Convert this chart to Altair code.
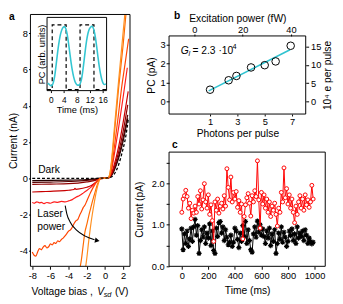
import altair as alt
import pandas as pd

FONT = "Liberation Sans"

# ================= panel a : current vs voltage =================
a_x_domain = [-8.2, 2.75]
a_y_domain = [-4.86, 9.04]
a_x_ticks = [-8, -6, -4, -2, 0, 2]
a_y_ticks = [-4, -2, 0, 2, 4, 6, 8]

dark_v = [-8.0, -4.0, -1.0, 0.3, 0.5, 0.7, 1.0, 1.5, 1.9, 2.3, 2.56]
dark_i = [0.0, 0.0, 0.0, 0.02, 0.03, 0.07, 0.22, 0.75, 1.46, 2.36, 3.26]

low_v = [-8.0, -6.0, -4.0, -2.0, -1.0, -0.6, 0.0, 0.3, 0.5, 0.7, 1.0, 1.5, 2.0, 2.5]
c1_i = [-0.13, -0.12, -0.10, -0.07, -0.03, 0.0, 0.0, 0.01, 0.04, 0.14, 0.42, 1.11, 2.07, 3.30]
c2_i = [-0.23, -0.21, -0.18, -0.12, -0.06, -0.01, 0.0, 0.01, 0.05, 0.16, 0.47, 1.22, 2.25, 3.50]
c3_i = [-0.34, -0.32, -0.30, -0.20, -0.10, -0.02, 0.0, 0.01, 0.05, 0.20, 0.58, 1.45, 2.60, 4.05]

c4_v = [-8.0, -7.0, -6.0, -5.0, -4.0, -3.4, -3.3, -3.2, -3.0, -2.0, -1.5, -1.0, -0.6, 0.0, 0.3, 0.5, 0.7, 1.0, 1.5, 2.0, 2.55]
c4_i = [-0.76, -0.74, -0.72, -0.70, -0.66, -0.62, -0.55, -0.61, -0.60, -0.50, -0.40, -0.22, -0.03, 0.0, 0.01, 0.06, 0.25, 0.72, 1.75, 3.10, 4.80]

c5_v = [-8.0, -7.8, -7.5, -7.2, -7.0, -6.7, -6.4, -6.0, -5.6, -5.2, -4.8, -4.4, -4.0, -3.6, -3.2, -2.8, -2.4, -2.0, -1.6, -1.2, -0.9, -0.6, 0.0, 0.3, 0.5, 0.7, 1.0, 1.5, 2.0, 2.45]
c5_i = [-1.33, -1.38, -1.30, -1.36, -1.33, -1.40, -1.34, -1.38, -1.30, -1.33, -1.28, -1.30, -1.25, -1.18, -1.05, -0.95, -0.82, -0.68, -0.52, -0.33, -0.17, -0.02, 0.0, 0.01, 0.08, 0.40, 1.25, 2.80, 4.50, 6.10]

c6_v = [-8.0, -7.8, -7.6, -7.4, -7.2, -7.0, -6.8, -6.6, -6.4, -6.2, -6.0, -5.8, -5.6, -5.4, -5.2, -5.0, -4.8, -4.6, -4.4, -4.2,
        -4.0, -3.8, -3.6, -3.4, -3.2, -3.0, -2.8, -2.6, -2.4, -2.2, -2.0, -1.8, -1.6, -1.4, -1.2, -1.0, -0.8, -0.6, -0.4,
        0.0, 0.3, 0.5, 0.7, 1.0, 1.5, 1.8, 2.2, 2.6]
c6_i = [-4.07, -4.25, -4.30, -4.05, -3.88, -3.95, -3.80, -3.72, -3.85, -3.78, -3.62, -3.68, -3.55, -3.60, -3.45, -3.50, -3.38, -3.30, -3.18, -3.05,
        -2.92, -2.85, -2.70, -2.50, -2.35, -2.28, -2.05, -1.85, -1.62, -1.48, -1.25, -1.02, -0.80, -0.60, -0.42, -0.26, -0.12, -0.03, 0.0,
        0.0, 0.01, 0.10, 0.50, 1.60, 3.60, 4.90, 6.30, 7.70]

c7_v = [-2.72, -2.6, -2.4, -2.2, -2.0, -1.8, -1.6, -1.4, -1.2, -1.0, -0.8, -0.6, -0.4, 0.0, 0.3, 0.5, 0.7, 1.0, 1.5, 2.0, 2.30]
c7_i = [-4.86, -4.50, -3.70, -2.95, -2.55, -2.10, -1.70, -1.30, -0.95, -0.60, -0.28, -0.06, 0.0, 0.0, 0.02, 0.15, 0.80, 2.30, 5.00, 7.40, 9.04]

c8_v = [-2.12, -2.0, -1.8, -1.6, -1.4, -1.2, -1.0, -0.8, -0.6, -0.4, 0.0, 0.3, 0.5, 0.7, 1.0, 1.5, 2.0, 2.18]
c8_i = [-4.86, -4.40, -3.50, -2.70, -2.00, -1.40, -0.85, -0.40, -0.10, 0.0, 0.0, 0.02, 0.18, 0.90, 2.60, 5.40, 8.10, 9.04]

curve_names = ["c1", "c2", "c3", "c4", "c5", "c6", "c7", "c8"]
curve_colors = ["#1f0000", "#560000", "#8e0000", "#c80000", "#ff1c1c", "#ff4400", "#ff6a00", "#ff9020"]
curve_data = [(low_v, c1_i), (low_v, c2_i), (low_v, c3_i), (c4_v, c4_i),
              (c5_v, c5_i), (c6_v, c6_i), (c7_v, c7_i), (c8_v, c8_i)]

arrow_v = [-4.38, -4.20, -3.84, -3.13, -2.23, -1.15]
arrow_i = [-1.51, -1.96, -2.41, -2.86, -3.18, -3.39]
arrow_head_v = [-0.85]
arrow_head_i = [-3.44]

a_labels = ["Dark", "Laser", "power"]
a_label_v = [-7.35, -7.45, -7.45]
a_label_i = [0.45, -1.95, -2.68]

# inset (photocurrent trace)
in_x_domain = [-1.2, 17.2]
in_y_domain = [-0.015, 1.116]
in_x_ticks = [0, 4, 8, 12, 16]
sq_t = [-1.2, 0.4, 0.4, 4.7, 4.7, 9.0, 9.0, 13.3, 13.3, 17.2]
sq_v = [0, 0, 1, 1, 0, 0, 1, 1, 0, 0]
cy_t = [-1.0, -0.5, 0.0, 0.4, 0.8, 1.2, 1.6, 2.0, 2.4, 2.8, 3.2, 3.6, 4.0, 4.3, 4.6, 5.0, 5.4, 5.8, 6.2, 6.6, 7.0, 7.4, 7.8,
        8.2, 8.6, 9.0, 9.4, 9.8, 10.2, 10.6, 11.0, 11.4, 11.8, 12.2, 12.6, 12.9, 13.3, 13.7, 14.1, 14.5, 14.9, 15.3, 15.7,
        16.1, 16.5, 17.0]
cy_v = [0.10, 0.08, 0.06, 0.07, 0.12, 0.22, 0.38, 0.55, 0.70, 0.82, 0.90, 0.95, 0.97, 0.97, 0.94, 0.86, 0.73, 0.58, 0.43,
        0.30, 0.20, 0.13, 0.09, 0.07, 0.07, 0.09, 0.15, 0.27, 0.43, 0.60, 0.75, 0.86, 0.93, 0.96, 0.98, 0.97, 0.92, 0.82,
        0.68, 0.52, 0.37, 0.25, 0.16, 0.10, 0.08, 0.09]

# ================= panel b : PC vs photons =================
b_x_domain = [-2.0, 8.0]
b_y_domain = [-0.67, 3.47]
b_top_domain = [-10.5, 46.1]
b_right_domain = [-3.48, 17.95]
b_x_ticks = [1, 3, 5, 7]
b_y_ticks = [0, 1, 2, 3]
b_top_ticks = [0, 20, 40]
b_right_ticks = [0, 5, 10, 15]
photons = [1.0, 2.36, 2.93, 4.0, 5.0, 5.8, 6.9]
pc_pa = [0.62, 1.12, 1.35, 1.80, 1.92, 2.12, 2.95]
fit_photons = [0.9, 6.85]
fit_pc = [0.56, 2.74]

# ================= panel c : time traces =================
c_x_domain = [-96, 1081]
c_y_domain = [0, 2.75]
c_x_ticks = [0, 200, 400, 600, 800, 1000]
c_y_ticks = [0, 0.5, 1, 1.5, 2, 2.5]
time_ms = list(range(0, 1000, 10))
red_pa = [1.30, 1.62, 1.70, 1.83, 1.68, 1.40, 1.52, 1.15, 1.35, 1.28,
          1.45, 1.30, 1.68, 1.50, 1.82, 1.38, 1.60, 1.99, 1.55, 1.40,
          1.72, 1.25, 1.48, 1.10, 0.60, 1.55, 1.35, 1.62, 1.28, 1.45,
          1.52, 1.38, 1.70, 1.45, 2.35, 1.90, 1.60, 2.15, 1.55, 1.78,
          1.62, 1.80, 1.42, 1.58, 1.30, 1.50, 0.66, 1.20, 1.48, 1.65,
          1.75, 1.52, 1.21, 1.70, 1.55, 1.82, 1.68, 2.54, 1.60, 0.92,
          1.78, 1.50, 1.72, 1.40, 1.62, 1.30, 1.55, 1.20, 1.45, 1.35,
          1.52, 1.25, 0.97, 1.40, 1.30, 1.78, 1.55, 2.37, 1.65, 1.87,
          1.50, 1.72, 1.40, 1.62, 1.30, 1.05, 1.45, 1.25, 1.55, 1.70,
          1.40, 1.62, 1.35, 1.72, 1.48, 1.60, 1.42, 1.55, 1.95, 1.62]
black_pa = [0.90, 0.40, 0.78, 0.55, 0.85, 0.48, 0.66, 0.92, 0.60, 0.95,
            1.13, 0.75, 0.98, 0.31, 0.62, 0.88, 0.70, 0.95, 0.55, 0.80,
            0.68, 1.02, 0.50, 0.85, 0.38, 0.31, 0.92, 0.72, 1.05, 1.08,
            0.80, 0.95, 0.62, 0.88, 0.70, 0.52, 0.58, 0.75, 0.48, 0.58,
            0.92, 0.85, 0.65, 0.45, 0.80, 0.60, 0.98, 0.72, 1.08, 0.55,
            0.88, 0.62, 0.40, 0.34, 0.78, 0.95, 0.70, 1.09, 0.82, 1.00,
            0.75, 0.90, 0.72, 0.55, 0.85, 0.68, 0.92, 0.50, 0.78, 0.60,
            0.88, 0.31, 0.55, 0.80, 0.65, 0.95, 0.58, 0.82, 0.70, 0.48,
            0.60, 0.85, 0.74, 0.90, 0.62, 0.78, 0.55, 0.95, 0.68, 0.80,
            0.72, 0.85, 0.62, 0.88, 0.75, 0.55, 0.68, 0.60, 0.54, 0.58]

# ================= layout (one canvas, panels placed by scale ranges) =================
W_TOT, H_TOT = 335, 296
M = 8  # page margin


def px(v):
    return v - M


A_L, A_R, A_T, A_B = px(31), px(133), px(10), px(268)
IN_L, IN_R, IN_T, IN_B = px(48), px(109), px(13), px(88)
B_L, B_R, B_T, B_B = px(173), px(313), px(32), px(112)
C_L, C_R, C_T, C_B = px(173), px(333), px(151), px(268)


def text_piece(s, x, y, size, style="normal", weight="normal", align="left", baseline="middle"):
    return alt.Chart(pd.DataFrame({"s": [s]})).mark_text(
        text=s, font=FONT, fontSize=size, fontStyle=style, fontWeight=weight,
        align=align, baseline=baseline, color="black"
    ).encode(x=alt.value(x), y=alt.value(y))


def box(xdom, ydom, xf, yf, xfun, yfun, fill_white=False):
    df = pd.DataFrame({xf: [xdom[0]], xf + "2": [xdom[1]], yf: [ydom[0]], yf + "2": [ydom[1]]})
    if fill_white:
        mk = alt.Chart(df).mark_rect(fill="white", stroke="black", strokeWidth=1)
    else:
        mk = alt.Chart(df).mark_rect(fillOpacity=0, stroke="black", strokeWidth=1)
    return mk.encode(x=xfun(), x2=xf + "2:Q", y=yfun(), y2=yf + "2:Q")


# ---------- panel a ----------
rows = []
for name, (vs, cs) in zip(curve_names, curve_data):
    for v, c in zip(vs, cs):
        rows.append({"curve": name, "V": v, "I": c})
df_iv = pd.DataFrame(rows)
df_dark = pd.DataFrame({"V": dark_v, "I": dark_i})
df_arrow = pd.DataFrame({"V": arrow_v, "I": arrow_i})
df_head = pd.DataFrame({"V": arrow_head_v, "I": arrow_head_i})
df_alab = pd.DataFrame({"V": a_label_v, "I": a_label_i, "s": a_labels})


def xa():
    return alt.X("V:Q", scale=alt.Scale(domain=a_x_domain, range=[A_L, A_R], nice=False, zero=False),
                 axis=alt.Axis(orient="bottom", offset=-(H_TOT - A_B), values=a_x_ticks, title=None,
                               labelExpr="'' + datum.value", tickSize=3, labelPadding=2))


def ya():
    return alt.Y("I:Q", scale=alt.Scale(domain=a_y_domain, range=[A_B, A_T], nice=False, zero=False),
                 axis=alt.Axis(orient="left", offset=-A_L, values=a_y_ticks, title="Current (nA)",
                               labelExpr="'' + datum.value", tickSize=2, labelPadding=1, titlePadding=1))


box_a = box(a_x_domain, a_y_domain, "V", "I", xa, ya)
lines_a = alt.Chart(df_iv).mark_line(strokeWidth=1.2, interpolate="monotone").encode(
    x=xa(), y=ya(),
    color=alt.Color("curve:N", scale=alt.Scale(domain=curve_names, range=curve_colors), legend=None))
dark_a = alt.Chart(df_dark).mark_line(strokeWidth=1.3, strokeDash=[3, 2], color="black",
                                      interpolate="monotone").encode(x=xa(), y=ya())
arrow_a = alt.Chart(df_arrow).mark_line(strokeWidth=1.1, color="black", interpolate="monotone").encode(x=xa(), y=ya())
head_a = alt.Chart(df_head).mark_point(shape="triangle-right", filled=True, size=30, angle=12,
                                       color="black", opacity=1).encode(x=xa(), y=ya())
lab_a = alt.Chart(df_alab).mark_text(font=FONT, fontSize=10.5, align="left", baseline="middle",
                                     color="black").encode(x=xa(), y=ya(), text="s:N")

ty = px(294)
t1 = text_piece("Voltage bias ,", px(32), ty, 10.5)
t2 = text_piece("V", px(99.5), ty, 10.5, style="italic")
t3 = text_piece("sd", px(106), ty + 3, 7.5, style="italic")
t4 = text_piece("(V)", px(117.5), ty, 10.5)
lab_panel_a = text_piece("a", px(9), px(8), 10.5, weight="bold", baseline="top")

layer_a = alt.layer(lines_a, dark_a, arrow_a, head_a, lab_a, box_a, t1, t2, t3, t4, lab_panel_a)

# ---------- inset ----------
df_sq = pd.DataFrame({"t": sq_t, "v": sq_v, "o": list(range(len(sq_t)))})
df_cy = pd.DataFrame({"t": cy_t, "v": cy_v})


def xin():
    return alt.X("t:Q", scale=alt.Scale(domain=in_x_domain, range=[IN_L, IN_R], nice=False, zero=False),
                 axis=alt.Axis(orient="bottom", offset=-(H_TOT - IN_B), values=in_x_ticks, title="Time (ms)",
                               labelFontSize=8.5, titleFontSize=9.5, tickSize=2, labelPadding=3, titlePadding=1))


def yin():
    return alt.Y("v:Q", scale=alt.Scale(domain=in_y_domain, range=[IN_B, IN_T], nice=False, zero=False),
                 axis=alt.Axis(orient="left", offset=-IN_L, labels=False, ticks=False, title="PC (arb. units)",
                               titleFontSize=9.5, titlePadding=1))


box_in = box(in_x_domain, in_y_domain, "t", "v", xin, yin, fill_white=True)
sq_in = alt.Chart(df_sq).mark_line(color="black", strokeWidth=1.2, strokeDash=[4, 3]).encode(
    x=xin(), y=yin(), order="o:Q")
cy_in = alt.Chart(df_cy).mark_line(color="#33c6d2", strokeWidth=1.6, interpolate="monotone").encode(
    x=xin(), y=yin())
layer_in = alt.layer(box_in, sq_in, cy_in)

# ---------- panel b ----------
df_b = pd.DataFrame({"p": photons, "pc": pc_pa})
df_fit = pd.DataFrame({"p": fit_photons, "pc": fit_pc})
df_sec = pd.DataFrame({"fw": b_top_ticks[:2], "e": b_right_ticks[:2]})


def xb():
    return alt.X("p:Q", scale=alt.Scale(domain=b_x_domain, range=[B_L, B_R], nice=False, zero=False),
                 axis=alt.Axis(orient="bottom", offset=-(H_TOT - B_B), values=b_x_ticks, title="Photons per pulse",
                               tickSize=2, labelPadding=1, titlePadding=3))


def yb():
    return alt.Y("pc:Q", scale=alt.Scale(domain=b_y_domain, range=[B_B, B_T], nice=False, zero=False),
                 axis=alt.Axis(orient="left", offset=-B_L, values=b_y_ticks, title="PC  (pA)", tickSize=3,
                               labelPadding=1, titlePadding=4))


box_b = box(b_x_domain, b_y_domain, "p", "pc", xb, yb)
fit_b = alt.Chart(df_fit).mark_line(color="#2fc3d0", strokeWidth=1.6).encode(x=xb(), y=yb())
pts_b = alt.Chart(df_b).mark_point(shape="circle", filled=False, size=60, stroke="black", strokeWidth=1,
                                   opacity=1).encode(x=xb(), y=yb())
g1 = text_piece("G", px(185), px(47), 10.5, style="italic")
g2 = text_piece("l", px(192.8), px(50.5), 7.5, style="italic")
g3 = text_piece("= 2.3 ·10", px(197), px(47), 10.5)
g4 = text_piece("4", px(238), px(43), 7.5)
lab_panel_b = text_piece("b", px(178), px(7), 10.5, weight="bold", baseline="top")
layer_b = alt.layer(box_b, fit_b, pts_b, g1, g2, g3, g4, lab_panel_b)

layer_b2 = alt.Chart(df_sec).mark_point(opacity=0).encode(
    x=alt.X("fw:Q", scale=alt.Scale(domain=b_top_domain, range=[B_L, B_R], nice=False, zero=False),
            axis=alt.Axis(orient="top", offset=-B_T, values=b_top_ticks, title="Excitation power (fW)", tickSize=2,
                          labelPadding=0, titlePadding=1)),
    y=alt.Y("e:Q", scale=alt.Scale(domain=b_right_domain, range=[B_B, B_T], nice=False, zero=False),
            axis=alt.Axis(orient="right", offset=-(W_TOT - B_R), values=b_right_ticks, title="10⁴ e per pulse",
                          tickSize=3, labelPadding=2, titlePadding=2, titleAngle=270, titleBaseline="top")))

# ---------- panel c ----------
df_red = pd.DataFrame({"t": time_ms, "pa": red_pa})
df_blk = pd.DataFrame({"t": time_ms, "pa": black_pa})


def xc():
    return alt.X("t:Q", scale=alt.Scale(domain=c_x_domain, range=[C_L, C_R], nice=False, zero=False),
                 axis=alt.Axis(orient="bottom", offset=-(H_TOT - C_B), values=c_x_ticks, title="Time (ms)",
                               labelExpr="'' + datum.value", tickSize=3, labelPadding=2, titlePadding=5))


def yc():
    return alt.Y("pa:Q", scale=alt.Scale(domain=c_y_domain, range=[C_B, C_T], nice=False, zero=False),
                 axis=alt.Axis(orient="left", offset=-C_L, values=c_y_ticks,
                               labelExpr="datum.value % 1 === 0 ? datum.label : ''",
                               title="Current  (pA)", tickSize=3, labelPadding=2, titlePadding=7))


STAR = "M-1,0L1,0M0,-1L0,1M-0.7,-0.7L0.7,0.7M-0.7,0.7L0.7,-0.7"
box_c = box(c_x_domain, c_y_domain, "t", "pa", xc, yc)
blk_line = alt.Chart(df_blk).mark_line(color="black", strokeWidth=1).encode(x=xc(), y=yc())
blk_pts = alt.Chart(df_blk).mark_point(shape=STAR, filled=False, size=28, stroke="black", strokeWidth=1.2,
                                       opacity=1).encode(x=xc(), y=yc())
red_line = alt.Chart(df_red).mark_line(color="#ff0000", strokeWidth=1).encode(x=xc(), y=yc())
red_pts = alt.Chart(df_red).mark_point(shape="circle", size=16, fill="white", fillOpacity=1, stroke="#ff0000",
                                       strokeWidth=1, opacity=1).encode(x=xc(), y=yc())
lab_panel_c = text_piece("c", px(176), px(139), 10.5, weight="bold", baseline="top")
layer_c = alt.layer(box_c, blk_line, blk_pts, red_line, red_pts, lab_panel_c)

chart = alt.layer(layer_a, layer_in, layer_b, layer_b2, layer_c).resolve_scale(
    x="independent", y="independent"
).properties(width=W_TOT, height=H_TOT, padding=0).configure_view(
    stroke="transparent"
).configure_axis(
    grid=False, domain=False, labelFont=FONT, titleFont=FONT, labelFontSize=9.5, titleFontSize=10.5,
    labelColor="black", titleColor="black", tickColor="black", tickWidth=1, titleFontWeight="normal"
)

chart.save("out.html", embed_options={"renderer": "svg", "actions": False})
